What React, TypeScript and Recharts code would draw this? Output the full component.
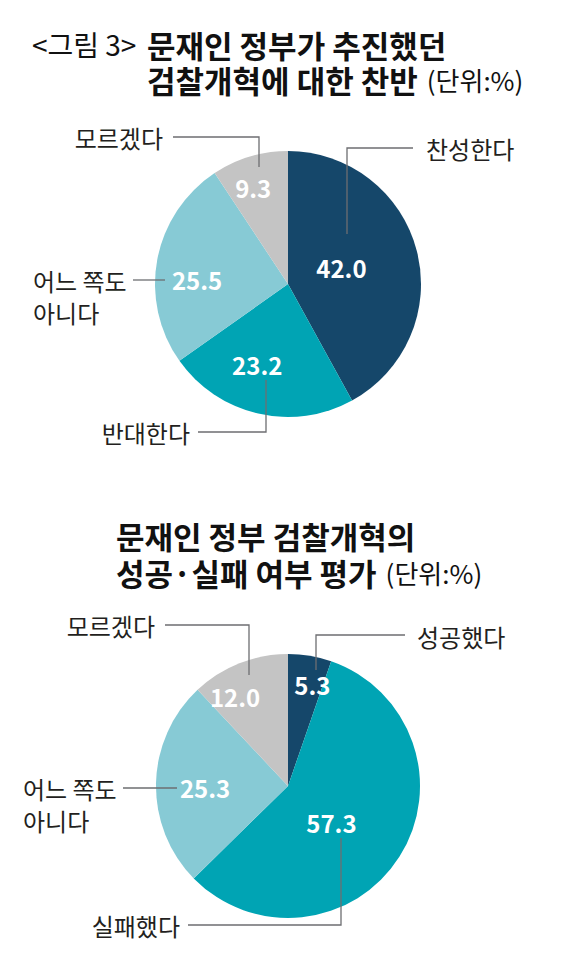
import { PieChart, Pie, Cell } from 'recharts'

// 문재인 정부 검찰개혁 찬반 (단위:%)
const topNames = ['찬성한다', '반대한다', '어느 쪽도 아니다', '모르겠다']
const topValues = [42.0, 23.2, 25.5, 9.3]

// 검찰개혁 성공·실패 여부 평가 (단위:%)
const bottomNames = ['성공했다', '실패했다', '어느 쪽도 아니다', '모르겠다']
const bottomValues = [5.3, 57.3, 25.3, 12.0]

const sliceColors = ['#15476a', '#00a4b4', '#87cad5', '#c4c4c4']

const FONT = '"Noto Sans CJK KR", "Noto Sans", sans-serif'

type Leader = {
  r: number // value label radius
  da: number // angle tweak
  line: [number, number][] // leader points, relative to pie centre
  text: [number, number]
  anchor: 'start' | 'end'
}

const topLayout: Leader[] = [
  { r: 56, da: 3, line: [[59, -50], [59, -136], [125, -136]], text: [138, -136], anchor: 'start' },
  { r: 86, da: -8, line: [[-22, 96], [-22, 148], [-90, 148]], text: [-98, 148], anchor: 'end' },
  { r: 91, da: 8, line: [[-155, -4], [-123, -4]], text: [-255, -4], anchor: 'start' },
  { r: 103, da: 3, line: [[-29, -117], [-29, -147], [-115, -147]], text: [-125, -147], anchor: 'end' },
]

const bottomLayout: Leader[] = [
  { r: 104, da: -4, line: [[28, -116], [28, -151], [117, -151]], text: [129, -150], anchor: 'start' },
  { r: 57, da: -8, line: [[53, 52], [53, 139], [-100, 139]], text: [-108, 139], anchor: 'end' },
  { r: 83, da: 2.5, line: [[-165, 2], [-111, 2]], text: [-265, 2], anchor: 'start' },
  { r: 104, da: 9, line: [[-39, -111], [-39, -161], [-123, -161]], text: [-133, -161], anchor: 'end' },
]

const RAD = Math.PI / 180

function makeLabel(names: string[], layout: Leader[]) {
  return (props: any) => {
    const { cx, cy, midAngle, index, value } = props
    const l = layout[index]
    const a = (midAngle + l.da) * RAD
    const vx = cx + l.r * Math.cos(a)
    const vy = cy - l.r * Math.sin(a)
    const pts = l.line.map(([x, y]) => `${cx + x},${cy + y}`).join(' ')
    const parts = names[index] === '어느 쪽도 아니다' ? ['어느 쪽도', '아니다'] : [names[index]]
    return (
      <g key={`lbl-${index}`}>
        <text x={vx} y={vy} fill="#fff" fontSize={24} fontWeight={700} textAnchor="middle" dominantBaseline="central" fontFamily={FONT}>
          {Number(value).toFixed(1)}
        </text>
        <polyline points={pts} fill="none" stroke="#6d6e71" strokeWidth={1.3} />
        {parts.map((p, i) => (
          <text key={i} x={cx + l.text[0]} y={cy + l.text[1] + i * 32} fill="#231f20" fontSize={24} textAnchor={l.anchor} dominantBaseline="central" fontFamily={FONT}>
            {p}
          </text>
        ))}
      </g>
    )
  }
}

function PieBlock({ names, values, layout, top, height, cy, r }: any) {
  const data = names.map((name: string, i: number) => ({ name, value: values[i] }))
  return (
    <div style={{ position: 'absolute', left: 0, top }}>
      <PieChart width={564} height={height} margin={{ top: 0, right: 0, bottom: 0, left: 0 }}>
        <Pie
          data={data}
          dataKey="value"
          nameKey="name"
          cx={288}
          cy={cy}
          outerRadius={r}
          startAngle={90}
          endAngle={-270}
          stroke="none"
          labelLine={false}
          label={makeLabel(names, layout)}
          isAnimationActive={false}
        >
          {data.map((_: any, i: number) => (
            <Cell key={i} fill={sliceColors[i]} />
          ))}
        </Pie>
      </PieChart>
    </div>
  )
}

export default function App() {
  return (
    <div style={{ position: 'absolute', left: 0, top: 0, width: 564, height: 979, background: '#fff', fontFamily: FONT }}>
      <svg width={564} height={979} style={{ position: 'absolute', left: 0, top: 0 }}>
        <g fontFamily={FONT} fill="#111" dominantBaseline="central">
          <text x={32} y={44} fontSize={28}>
            {'<그림 3>'}
          </text>
          <text x={147} y={44} fontSize={31} fontWeight={700}>
            문재인 정부가 추진했던
          </text>
          <text x={147} y={79}>
            <tspan fontSize={31} fontWeight={700}>검찰개혁에 대한 찬반</tspan>
            <tspan fontSize={26} dx={9}>(단위:%)</tspan>
          </text>
          <text x={116} y={535} fontSize={31} fontWeight={700}>
            문재인 정부 검찰개혁의
          </text>
          <text x={116} y={572}>
            <tspan fontSize={31} fontWeight={700}>성공·실패 여부 평가</tspan>
            <tspan fontSize={26} dx={9}>(단위:%)</tspan>
          </text>
        </g>
      </svg>
      <PieBlock names={topNames} values={topValues} layout={topLayout} top={100} height={360} cy={184} r={133} />
      <PieBlock names={bottomNames} values={bottomValues} layout={bottomLayout} top={590} height={380} cy={196} r={132} />
    </div>
  )
}
